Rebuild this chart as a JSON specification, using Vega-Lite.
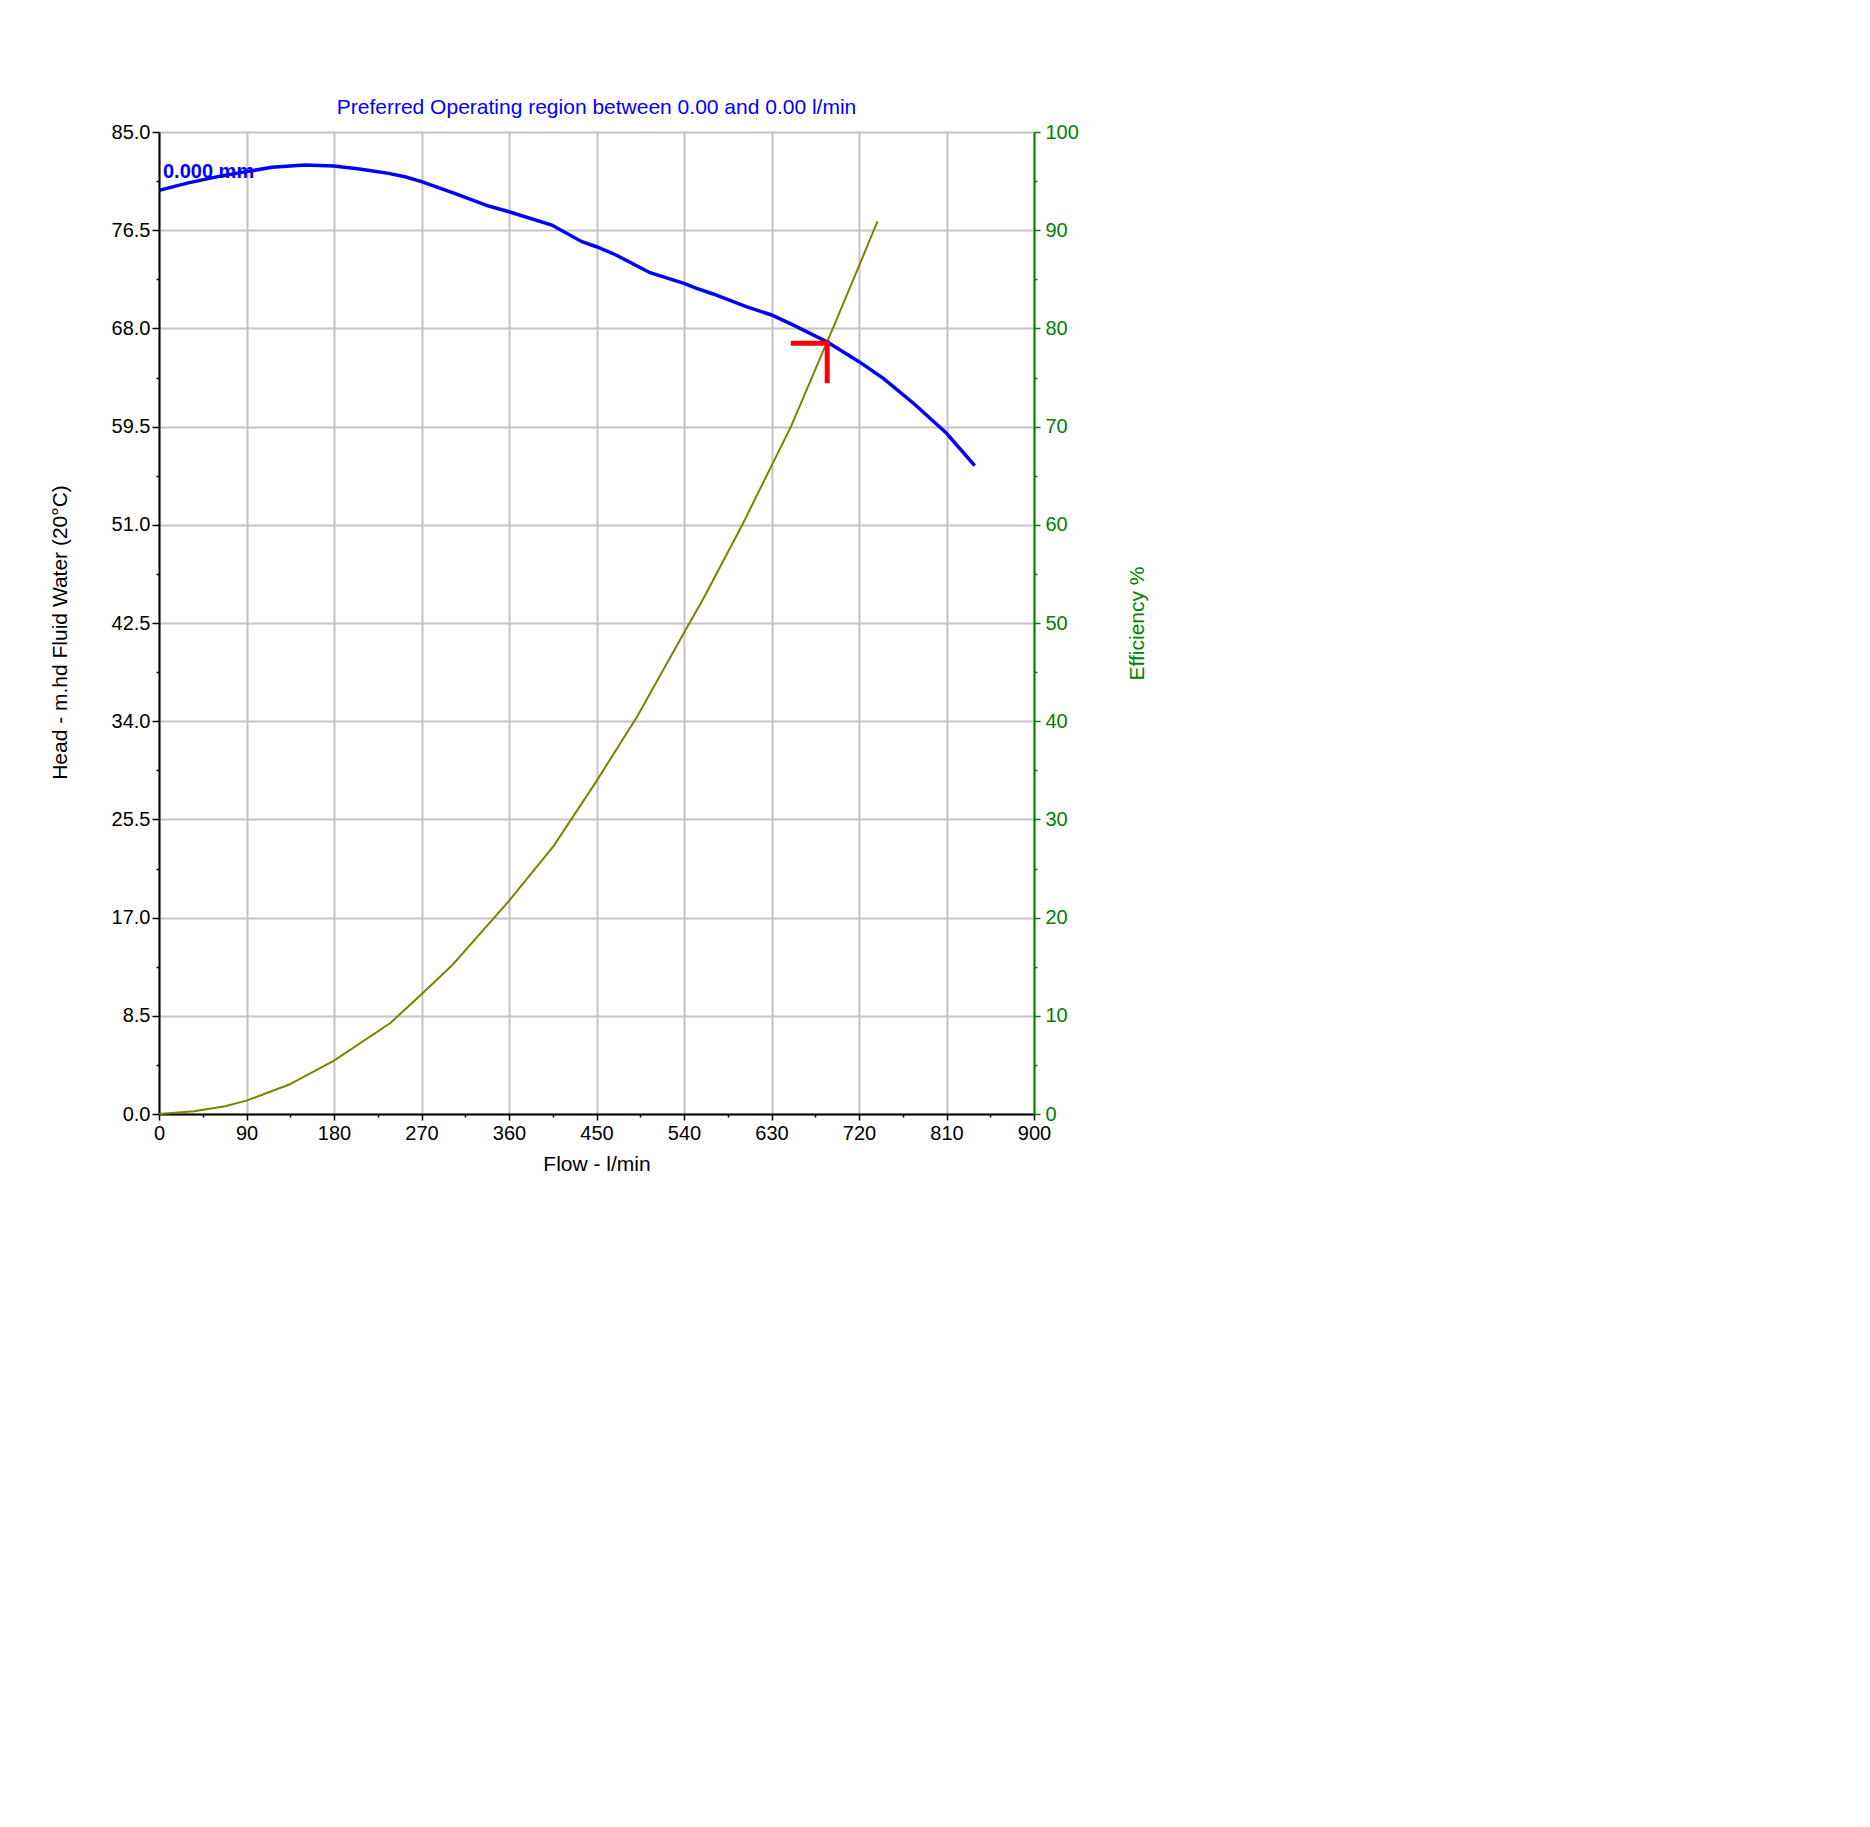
{
  "$schema": "https://vega.github.io/schema/vega-lite/v6.json",
  "width": 875,
  "height": 982,
  "autosize": {"type": "none"},
  "padding": {"left": 159, "top": 132, "right": 836, "bottom": 713},
  "background": "white",
  "title": {"text": "Preferred Operating region between 0.00 and 0.00 l/min", "color": "#0000ff", "fontSize": 21, "fontWeight": "normal", "font": "Liberation Sans", "anchor": "middle", "baseline": "alphabetic", "offset": -13},
  "config": {
    "view": {"stroke": null},
    "font": "Liberation Sans",
    "axis": {"labelFont": "Liberation Sans", "titleFont": "Liberation Sans", "labelFontSize": 20, "titleFontSize": 21, "titleFontWeight": "normal", "labelColor": "black", "titleColor": "black", "domainColor": "black", "tickColor": "black", "domainWidth": 2, "tickWidth": 1.5, "gridColor": "#c4c4c4", "gridWidth": 2, "labelFlush": false, "labelOverlap": false}
  },
  "datasets": {
    "head": [
      {"flow": 0, "head": 79.95}, {"flow": 30, "head": 80.6}, {"flow": 64, "head": 81.2}, {"flow": 90, "head": 81.57}, {"flow": 116, "head": 81.94}, {"flow": 150, "head": 82.14}, {"flow": 180, "head": 82.06}, {"flow": 208, "head": 81.77}, {"flow": 236, "head": 81.42}, {"flow": 253, "head": 81.13}, {"flow": 270, "head": 80.7}, {"flow": 304, "head": 79.69}, {"flow": 339, "head": 78.59}, {"flow": 360, "head": 78.1}, {"flow": 404, "head": 76.95}, {"flow": 435, "head": 75.5}, {"flow": 450, "head": 75.07}, {"flow": 469, "head": 74.4}, {"flow": 505, "head": 72.82}, {"flow": 540, "head": 71.9}, {"flow": 553, "head": 71.47}, {"flow": 570, "head": 70.98}, {"flow": 604, "head": 69.88}, {"flow": 630, "head": 69.16}, {"flow": 652, "head": 68.3}, {"flow": 687, "head": 66.85}, {"flow": 720, "head": 65.12}, {"flow": 745, "head": 63.68}, {"flow": 776, "head": 61.52}, {"flow": 810, "head": 58.92}, {"flow": 839, "head": 56.12}
    ],
    "eff": [
      {"flow": 0, "eff": 0}, {"flow": 36, "eff": 0.27}, {"flow": 68, "eff": 0.78}, {"flow": 90, "eff": 1.36}, {"flow": 134, "eff": 3.0}, {"flow": 180, "eff": 5.43}, {"flow": 238, "eff": 9.27}, {"flow": 270, "eff": 12.2}, {"flow": 302, "eff": 15.2}, {"flow": 360, "eff": 21.7}, {"flow": 406, "eff": 27.3}, {"flow": 450, "eff": 33.9}, {"flow": 492, "eff": 40.5}, {"flow": 540, "eff": 49.0}, {"flow": 560, "eff": 52.5}, {"flow": 600, "eff": 60.0}, {"flow": 630, "eff": 66.0}, {"flow": 650, "eff": 70.0}, {"flow": 694, "eff": 80.2}, {"flow": 721, "eff": 86.6}, {"flow": 739, "eff": 90.9}
    ],
    "markerH": [{"flow": 649.8, "flow2": 690.2, "head": 66.72}],
    "markerV": [{"flow": 687.3, "head": 66.94, "head2": 63.25}],
    "label": [{"flow": 0, "head": 81.0, "label": "0.000 mm"}]
  },
  "layer": [
    {
      "data": {"name": "eff"},
      "mark": {"type": "line", "color": "#808000", "strokeWidth": 2},
      "encoding": {
        "x": {"field": "flow", "type": "quantitative", "scale": {"domain": [0, 900], "nice": false}, "axis": null},
        "y": {"field": "eff", "type": "quantitative", "scale": {"domain": [0, 100], "nice": false},
          "axis": {"orient": "right", "values": [0, 10, 20, 30, 40, 50, 60, 70, 80, 90, 100], "title": "Efficiency %", "titleAngle": 270, "titleBaseline": "top", "grid": false, "tickSize": 6, "labelPadding": 5, "titlePadding": 48, "domainColor": "#008000", "tickColor": "#008000", "labelColor": "#008000", "titleColor": "#008000"}}
      }
    },
    {
      "data": {"name": "head"},
      "mark": {"type": "line", "color": "#0000ff", "strokeWidth": 3.5},
      "encoding": {
        "x": {"field": "flow", "type": "quantitative", "scale": {"domain": [0, 900], "nice": false},
          "axis": {"orient": "bottom", "values": [0, 90, 180, 270, 360, 450, 540, 630, 720, 810, 900], "title": "Flow - l/min", "grid": true, "tickSize": 6, "labelPadding": 3, "titlePadding": 10}},
        "y": {"field": "head", "type": "quantitative", "scale": {"domain": [0, 85], "nice": false},
          "axis": {"orient": "left", "values": [0, 8.5, 17, 25.5, 34, 42.5, 51, 59.5, 68, 76.5, 85], "format": ".1f", "title": "Head - m.hd Fluid Water (20°C)", "titleY": 500, "grid": true, "tickSize": 7, "labelPadding": 2, "titlePadding": 41}}
      }
    },
    {
      "data": {"name": "head"},
      "mark": {"type": "line", "opacity": 0},
      "encoding": {
        "x": {"field": "flow", "type": "quantitative", "scale": {"domain": [0, 900], "nice": false},
          "axis": {"orient": "bottom", "values": [45, 135, 225, 315, 405, 495, 585, 675, 765, 855], "labels": false, "domain": false, "grid": false, "tickSize": 3, "title": null}},
        "y": {"field": "head", "type": "quantitative", "scale": {"domain": [0, 85], "nice": false},
          "axis": {"orient": "left", "values": [4.25, 12.75, 21.25, 29.75, 38.25, 46.75, 55.25, 63.75, 72.25, 80.75], "labels": false, "domain": false, "grid": false, "tickSize": 3, "title": null}}
      }
    },
    {
      "data": {"name": "eff"},
      "mark": {"type": "line", "opacity": 0},
      "encoding": {
        "x": {"field": "flow", "type": "quantitative", "scale": {"domain": [0, 900], "nice": false}, "axis": null},
        "y": {"field": "eff", "type": "quantitative", "scale": {"domain": [0, 100], "nice": false},
          "axis": {"orient": "right", "values": [5, 15, 25, 35, 45, 55, 65, 75, 85, 95], "labels": false, "domain": false, "grid": false, "tickSize": 3, "title": null, "tickColor": "#008000"}}
      }
    },
    {
      "data": {"name": "markerH"},
      "mark": {"type": "rule", "color": "#ff0000", "strokeWidth": 5, "strokeCap": "butt"},
      "encoding": {
        "x": {"field": "flow", "type": "quantitative", "scale": {"domain": [0, 900], "nice": false}, "axis": null},
        "x2": {"field": "flow2"},
        "y": {"field": "head", "type": "quantitative", "scale": {"domain": [0, 85], "nice": false}, "axis": null}
      }
    },
    {
      "data": {"name": "markerV"},
      "mark": {"type": "rule", "color": "#ff0000", "strokeWidth": 5, "strokeCap": "butt"},
      "encoding": {
        "x": {"field": "flow", "type": "quantitative", "scale": {"domain": [0, 900], "nice": false}, "axis": null},
        "y": {"field": "head", "type": "quantitative", "scale": {"domain": [0, 85], "nice": false}, "axis": null},
        "y2": {"field": "head2"}
      }
    },
    {
      "data": {"name": "label"},
      "mark": {"type": "text", "align": "left", "baseline": "alphabetic", "dx": 4, "fontSize": 20, "fontWeight": "bold", "color": "#0000ff", "font": "Liberation Sans"},
      "encoding": {
        "x": {"field": "flow", "type": "quantitative", "scale": {"domain": [0, 900], "nice": false}, "axis": null},
        "y": {"field": "head", "type": "quantitative", "scale": {"domain": [0, 85], "nice": false}, "axis": null},
        "text": {"field": "label"}
      }
    }
  ],
  "resolve": {"scale": {"y": "independent"}, "axis": {"x": "independent", "y": "independent"}}
}
